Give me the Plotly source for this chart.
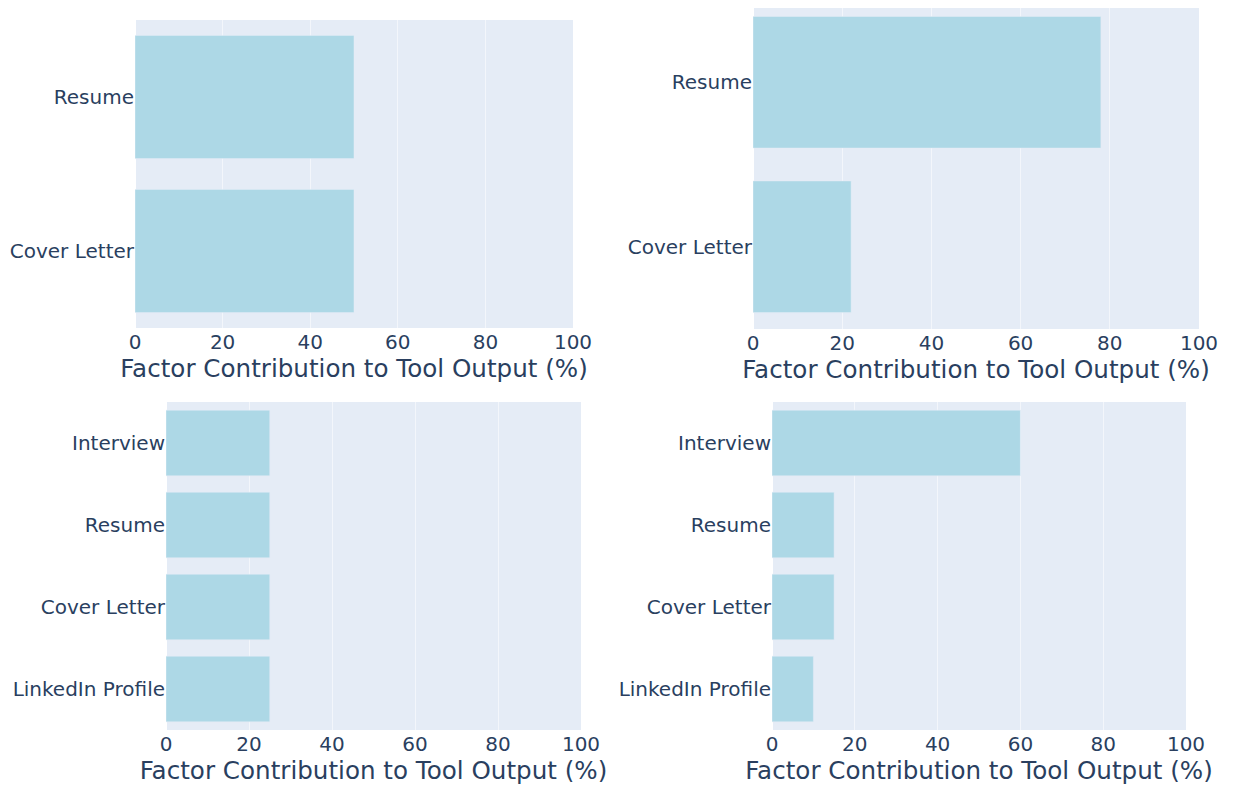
import plotly.graph_objects as go
from plotly.subplots import make_subplots

# two-factor tools (bottom to top)
two_factors = ["Cover Letter", "Resume"]
tool_a_values = [50, 50]
tool_b_values = [22, 78]

# four-factor tools (bottom to top)
four_factors = ["LinkedIn Profile", "Cover Letter", "Resume", "Interview"]
tool_c_values = [25, 25, 25, 25]
tool_d_values = [10, 15, 15, 60]

x_ticks = [0, 20, 40, 60, 80, 100]
x_title = "Factor Contribution to Tool Output (%)"

W, H = 1233, 788
OFF = 8  # page body margin


def xdom(left, right):
    return [(left - OFF) / W, (right - OFF) / W]


def ydom(top, bottom):
    return [1 - (bottom - OFF) / H, 1 - (top - OFF) / H]


fig = make_subplots(rows=2, cols=2)

panels = [
    (1, 1, two_factors, tool_a_values),
    (1, 2, two_factors, tool_b_values),
    (2, 1, four_factors, tool_c_values),
    (2, 2, four_factors, tool_d_values),
]
for r, c, cats, vals in panels:
    fig.add_trace(go.Bar(
        x=vals, y=cats, orientation="h",
        marker=dict(color="lightblue"),
        showlegend=False,
    ), row=r, col=c)

# pixel placement of each plot area (page coordinates)
fig.update_layout(
    xaxis=dict(domain=xdom(135, 573)),
    yaxis=dict(domain=ydom(20, 328)),
    xaxis2=dict(domain=xdom(753, 1199)),
    # top-right panel is clipped by the page top in the reference
    yaxis2=dict(domain=ydom(8, 329), range=[-0.5, 1.5 - 8 / 165]),
    xaxis3=dict(domain=xdom(166, 581)),
    yaxis3=dict(domain=ydom(402, 730)),
    xaxis4=dict(domain=xdom(772, 1186)),
    yaxis4=dict(domain=ydom(402, 730)),
)

fig.update_xaxes(
    range=[0, 100], tickvals=x_ticks, automargin=False,
    title=dict(text=x_title, font=dict(size=24.6), standoff=4),
    tickfont=dict(size=20),
    gridcolor="rgba(255,255,255,0.55)",
)
fig.update_yaxes(automargin=False, tickfont=dict(size=20))

fig.update_layout(
    width=W, height=H,
    margin=dict(l=0, r=0, t=0, b=0),
    font=dict(family="Verdana, DejaVu Sans, sans-serif", color="#2a3f5f"),
    bargap=0.2,
    plot_bgcolor="#E5ECF6",
    paper_bgcolor="white",
)

fig.write_html("out.html")
